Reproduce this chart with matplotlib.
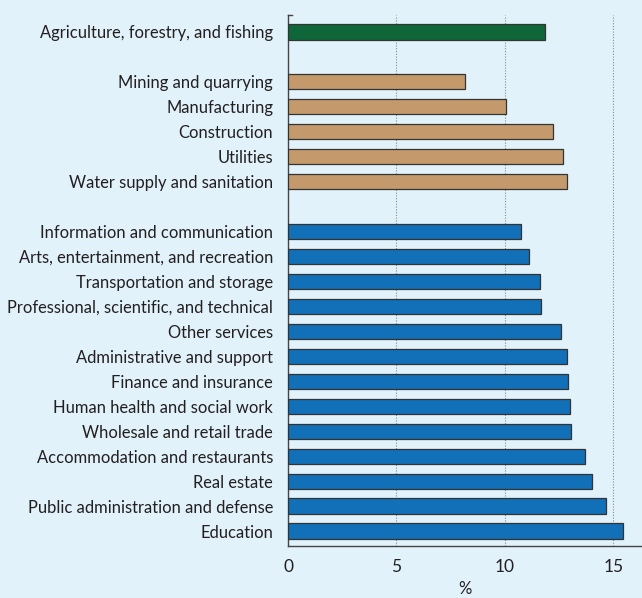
import matplotlib
matplotlib.use("Agg")
import matplotlib.pyplot as plt

agri_labels = ["Agriculture, forestry, and fishing"]
agri_values = [11.86]

industry_labels = ["Mining and quarrying", "Manufacturing", "Construction",
                   "Utilities", "Water supply and sanitation"]
industry_values = [8.18, 10.06, 12.2, 12.66, 12.88]

service_labels = ["Information and communication",
                  "Arts, entertainment, and recreation",
                  "Transportation and storage",
                  "Professional, scientific, and technical",
                  "Other services",
                  "Administrative and support",
                  "Finance and insurance",
                  "Human health and social work",
                  "Wholesale and retail trade",
                  "Accommodation and restaurants",
                  "Real estate",
                  "Public administration and defense",
                  "Education"]
service_values = [10.72, 11.09, 11.62, 11.65, 12.57, 12.85, 12.93, 12.98,
                  13.05, 13.68, 14.02, 14.67, 15.43]

xticks = [0, 5, 10, 15]

bg = "#e1f2fa"
plt.rcParams['font.family'] = ['Lato', 'DejaVu Sans']

fig = plt.figure(figsize=(6.42, 5.98), dpi=100, facecolor=bg)
ax = fig.add_axes([288/642, 1-546/598, 1-288/642, (546-15)/598])
ax.set_facecolor(bg)

groups = [(agri_labels, agri_values, "#0f6638"),
          (industry_labels, industry_values, "#c49a6c"),
          (service_labels, service_values, "#1170b8")]
pos = 0
ypos, ylabels = [], []
for labels, values, color in groups:
    ys = list(range(pos, pos + len(labels)))
    ax.barh(ys, values, height=0.61, color=color, edgecolor="#333333",
            linewidth=0.9, zorder=3)
    ypos += ys
    ylabels += labels
    pos += len(labels) + 1

ax.set_yticks(ypos)
ax.set_yticklabels(ylabels, fontsize=11.9, color="#231f20")
ax.tick_params(axis='y', length=0, pad=10.8)
ax.set_ylim(20.6, -0.68)
ax.set_xlim(0, 16.32)
ax.set_xticks(xticks)
ax.set_xticklabels([str(t) for t in xticks], fontsize=12.5, color="#231f20")
ax.tick_params(axis='x', length=0, pad=9.5)
ax.set_xlabel("%", fontsize=12, color="#231f20", labelpad=4.5)

for t in xticks[1:]:
    ax.axvline(t, color="#8a8a8a", linestyle=(0, (1, 1.5)), linewidth=0.8, zorder=1)

for s in ["top", "right"]:
    ax.spines[s].set_visible(False)
for s in ["left", "bottom"]:
    ax.spines[s].set_color("#444444")
    ax.spines[s].set_linewidth(1.0)

# small cap at the top of the y axis
ax.plot([0, 0.2], [-0.68, -0.68], color="#444444", linewidth=1.0,
        clip_on=False, zorder=4)

fig.savefig("out.png", dpi=100, facecolor=bg)
